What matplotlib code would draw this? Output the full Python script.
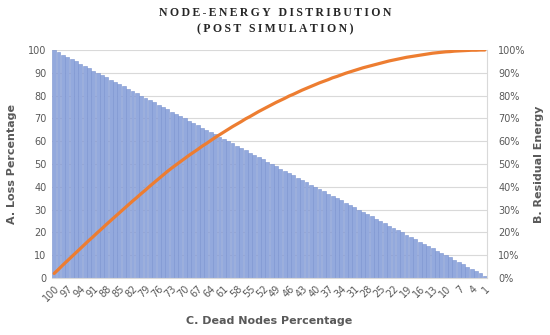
import matplotlib.pyplot as plt
from matplotlib.ticker import PercentFormatter

# dead nodes percentage (categories), loss percentage (bars), residual energy (line, %)
dead_nodes = [100, 99, 98, 97, 96, 95, 94, 93, 92, 91, 90, 89, 88, 87, 86, 85, 84, 83, 82, 81,
              80, 79, 78, 77, 76, 75, 74, 73, 72, 71, 70, 69, 68, 67, 66, 65, 64, 63, 62, 61,
              60, 59, 58, 57, 56, 55, 54, 53, 52, 51, 50, 49, 48, 47, 46, 45, 44, 43, 42, 41,
              40, 39, 38, 37, 36, 35, 34, 33, 32, 31, 30, 29, 28, 27, 26, 25, 24, 23, 22, 21,
              20, 19, 18, 17, 16, 15, 14, 13, 12, 11, 10, 9, 8, 7, 6, 5, 4, 3, 2, 1]
loss = [100, 99, 98, 97, 96, 95, 94, 93, 92, 91, 90, 89, 88, 87, 86, 85, 84, 83, 82, 81,
        80, 79, 78, 77, 76, 75, 74, 73, 72, 71, 70, 69, 68, 67, 66, 65, 64, 63, 62, 61,
        60, 59, 58, 57, 56, 55, 54, 53, 52, 51, 50, 49, 48, 47, 46, 45, 44, 43, 42, 41,
        40, 39, 38, 37, 36, 35, 34, 33, 32, 31, 30, 29, 28, 27, 26, 25, 24, 23, 22, 21,
        20, 19, 18, 17, 16, 15, 14, 13, 12, 11, 10, 9, 8, 7, 6, 5, 4, 3, 2, 1]
residual = [2.0, 3.8, 5.7, 7.5, 9.3, 11.1, 12.9, 14.7, 16.5, 18.2,
            20.0, 21.7, 23.5, 25.2, 26.9, 28.6, 30.3, 32.0, 33.7, 35.3,
            37.0, 38.6, 40.3, 41.9, 43.5, 45.1, 46.7, 48.2, 49.6, 51.0,
            52.4, 53.8, 55.1, 56.4, 57.8, 59.0, 60.3, 61.6, 62.8, 64.0,
            65.2, 66.4, 67.5, 68.6, 69.8, 70.8, 71.9, 73.0, 74.0, 75.0,
            76.0, 77.0, 77.9, 78.8, 79.8, 80.6, 81.5, 82.4, 83.2, 84.0,
            84.8, 85.6, 86.3, 87.0, 87.8, 88.4, 89.1, 89.8, 90.4, 91.0,
            91.6, 92.2, 92.7, 93.2, 93.7, 94.2, 94.7, 95.2, 95.6, 96.0,
            96.4, 96.8, 97.1, 97.4, 97.7, 98.0, 98.3, 98.6, 98.8, 99.0,
            99.2, 99.3, 99.5, 99.6, 99.7, 99.8, 99.9, 99.9, 100.0, 100.0]

grey = "#595959"

fig = plt.figure(figsize=(5.5, 3.35), dpi=100)
ax = fig.add_axes([52 / 550, 1 - 278 / 335, 435 / 550, 228 / 335])

x = range(len(dead_nodes))
ax.bar(x, loss, width=0.9, color="#93a9dd", edgecolor="#7a93d0", linewidth=0.4, zorder=2)
ax.set_ylim(0, 100)
ax.set_xlim(-0.5, len(dead_nodes) - 0.5)
ax.set_yticks(range(0, 101, 10))
ax.grid(axis="y", color="#d9d9d9", linewidth=0.8, zorder=0)
ax.set_axisbelow(True)

ax.set_xticks(list(x)[::3])
ax.set_xticklabels([str(v) for v in dead_nodes[::3]], rotation=45, ha="right",
                   rotation_mode="anchor")
ax.tick_params(axis="both", colors=grey, labelsize=7, length=0, pad=4)

ax2 = ax.twinx()
ax2.plot(x, residual, color="#ed7d31", linewidth=2.3, solid_capstyle="round", zorder=3)
ax2.set_ylim(0, 100)
ax2.set_yticks(range(0, 101, 10))
ax2.yaxis.set_major_formatter(PercentFormatter(decimals=0))
ax2.tick_params(axis="y", colors=grey, labelsize=7, length=0, pad=8)

for a in (ax, ax2):
    for s in a.spines.values():
        s.set_visible(False)
ax.spines["bottom"].set_visible(True)
ax.spines["bottom"].set_color("#d9d9d9")
ax2.spines["right"].set_visible(True)
ax2.spines["right"].set_color("#d9d9d9")

ax.set_ylabel("A. Loss Percentage", color=grey, fontsize=8, fontweight="bold", labelpad=8)
ax2.set_ylabel("B. Residual Energy", color=grey, fontsize=8, fontweight="bold", labelpad=6)
ax.set_xlabel("C. Dead Nodes Percentage", color=grey, fontsize=8, fontweight="bold", labelpad=9)

# letter-spaced serif title
ts = "\u2009"
line1 = ts.join("NODE-ENERGY DISTRIBUTION")
line2 = ts.join("(POST SIMULATION)")
for ypos, txt in ((13, line1), (29, line2)):
    fig.text(0.5, 1 - ypos / 335, txt, ha="center", va="center", fontsize=8.5, fontweight="bold",
             family=["Liberation Serif", "DejaVu Serif"], color="#262626")

fig.savefig("out.png", dpi=100)
